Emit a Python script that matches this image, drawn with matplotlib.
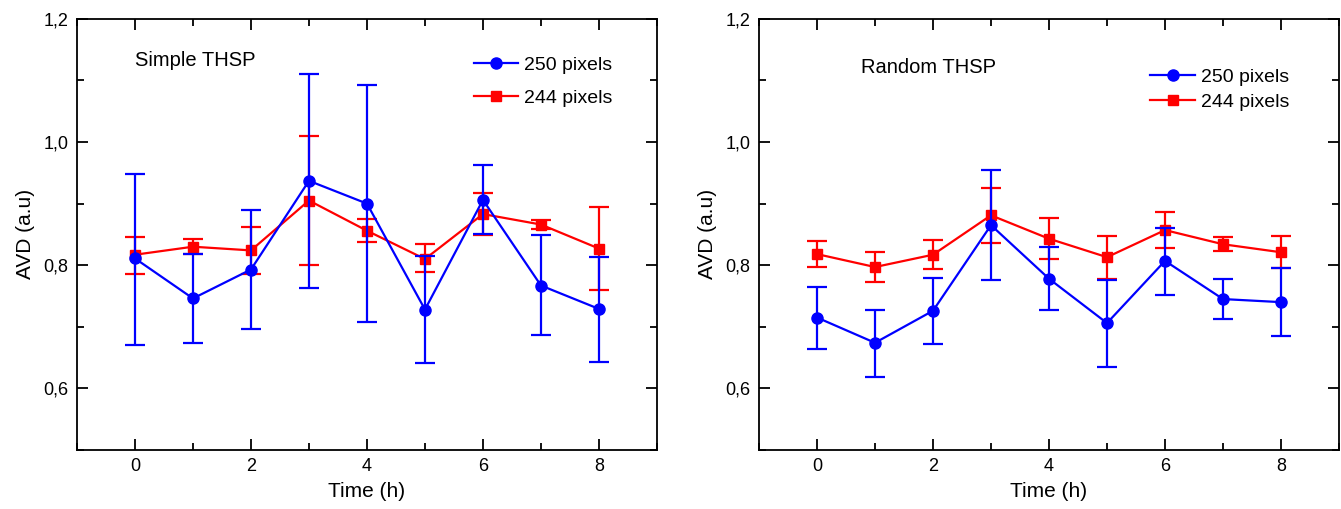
"""Two-panel AVD vs time chart (simple vs random THSP)."""
import matplotlib
matplotlib.use("Agg")
import matplotlib.pyplot as plt
from matplotlib.ticker import MultipleLocator, FuncFormatter
import numpy as np

# ---- data ----
hours = [0, 1, 2, 3, 4, 5, 6, 7, 8]

# Simple THSP
simple_250 = [0.811, 0.746, 0.793, 0.937, 0.900, 0.728, 0.906, 0.767, 0.729]
simple_250_lo = [0.671, 0.673, 0.696, 0.763, 0.707, 0.641, 0.850, 0.686, 0.643]
simple_250_hi = [0.948, 0.818, 0.889, 1.111, 1.093, 0.815, 0.962, 0.849, 0.814]
simple_244 = [0.817, 0.830, 0.824, 0.905, 0.856, 0.810, 0.883, 0.866, 0.827]
simple_244_lo = [0.785, 0.818, 0.785, 0.800, 0.837, 0.789, 0.849, 0.859, 0.760]
simple_244_hi = [0.846, 0.842, 0.862, 1.009, 0.875, 0.834, 0.918, 0.873, 0.895]

# Random THSP
random_250 = [0.715, 0.674, 0.726, 0.865, 0.778, 0.706, 0.807, 0.745, 0.740]
random_250_lo = [0.664, 0.618, 0.672, 0.776, 0.727, 0.635, 0.751, 0.712, 0.685]
random_250_hi = [0.765, 0.728, 0.779, 0.954, 0.829, 0.776, 0.861, 0.777, 0.795]
random_244 = [0.818, 0.797, 0.817, 0.881, 0.843, 0.813, 0.857, 0.834, 0.821]
random_244_lo = [0.797, 0.772, 0.794, 0.836, 0.810, 0.778, 0.828, 0.823, 0.795]
random_244_hi = [0.839, 0.822, 0.841, 0.926, 0.876, 0.847, 0.887, 0.845, 0.847]

panels = [
    ("Simple THSP", simple_250, simple_250_lo, simple_250_hi,
     simple_244, simple_244_lo, simple_244_hi),
    ("Random THSP", random_250, random_250_lo, random_250_hi,
     random_244, random_244_lo, random_244_hi),
]

plt.rcParams.update({
    "font.family": ["Liberation Sans", "DejaVu Sans"],
    "font.size": 13,
    "axes.linewidth": 1.3,
})

BLUE = "#0000ff"
RED = "#ff0000"


def comma(v, _pos):
    return f"{v:.1f}".replace(".", ",")


def draw_series(ax, y, lo, hi, color, marker, ms, label):
    y = np.asarray(y)
    yerr = [y - np.asarray(lo), np.asarray(hi) - y]
    ax.errorbar(hours, y, yerr=yerr, fmt="none", ecolor=color,
                elinewidth=1.6, capsize=7.5, capthick=1.6)
    ax.plot(hours, y, color=color, linewidth=1.6, marker=marker,
            markersize=ms, label=label)


fig = plt.figure(figsize=(13.41, 5.09), dpi=100)
ax_pos = [[0.0574, 0.116, 0.4325, 0.847], [0.566, 0.116, 0.4325, 0.847]]
text_pos = [(0.10, 0.903), (0.176, 0.888)]
leg_pos = [(0.684, 0.913), (0.675, 0.885)]
leg_space = [0.78, 0.37]

for i, (name, b, blo, bhi, r, rlo, rhi) in enumerate(panels):
    ax = fig.add_axes(ax_pos[i])
    draw_series(ax, r, rlo, rhi, RED, "s", 6.5, "244 pixels")
    draw_series(ax, b, blo, bhi, BLUE, "o", 8, "250 pixels")

    ax.set_xlim(-1, 9)
    ax.set_ylim(0.5, 1.2)
    ax.xaxis.set_major_locator(MultipleLocator(2))
    ax.xaxis.set_minor_locator(MultipleLocator(1))
    ax.yaxis.set_major_locator(MultipleLocator(0.2))
    ax.yaxis.set_minor_locator(MultipleLocator(0.1))
    ax.yaxis.set_major_formatter(FuncFormatter(comma))
    ax.set_yticks([0.6, 0.8, 1.0, 1.2])
    ax.tick_params(which="both", direction="in", top=True, right=True,
                   labelsize=13, width=1.3)
    ax.tick_params(which="major", length=8, pad=6)
    ax.tick_params(which="minor", length=5)

    ax.set_xlabel("Time (h)", fontsize=15, labelpad=5)
    ax.set_ylabel("AVD (a.u)", fontsize=15, labelpad=6)

    ax.text(*text_pos[i], name, transform=ax.transAxes, fontsize=14.5,
            va="center", ha="left")

    handles, labels = ax.get_legend_handles_labels()
    ax.legend(handles[::-1], labels[::-1], loc="upper left",
              bbox_to_anchor=leg_pos[i], frameon=False, fontsize=14,
              borderaxespad=0, borderpad=0, handlelength=2.3,
              handletextpad=0.3, labelspacing=leg_space[i])

fig.savefig("out.png", dpi=100)
